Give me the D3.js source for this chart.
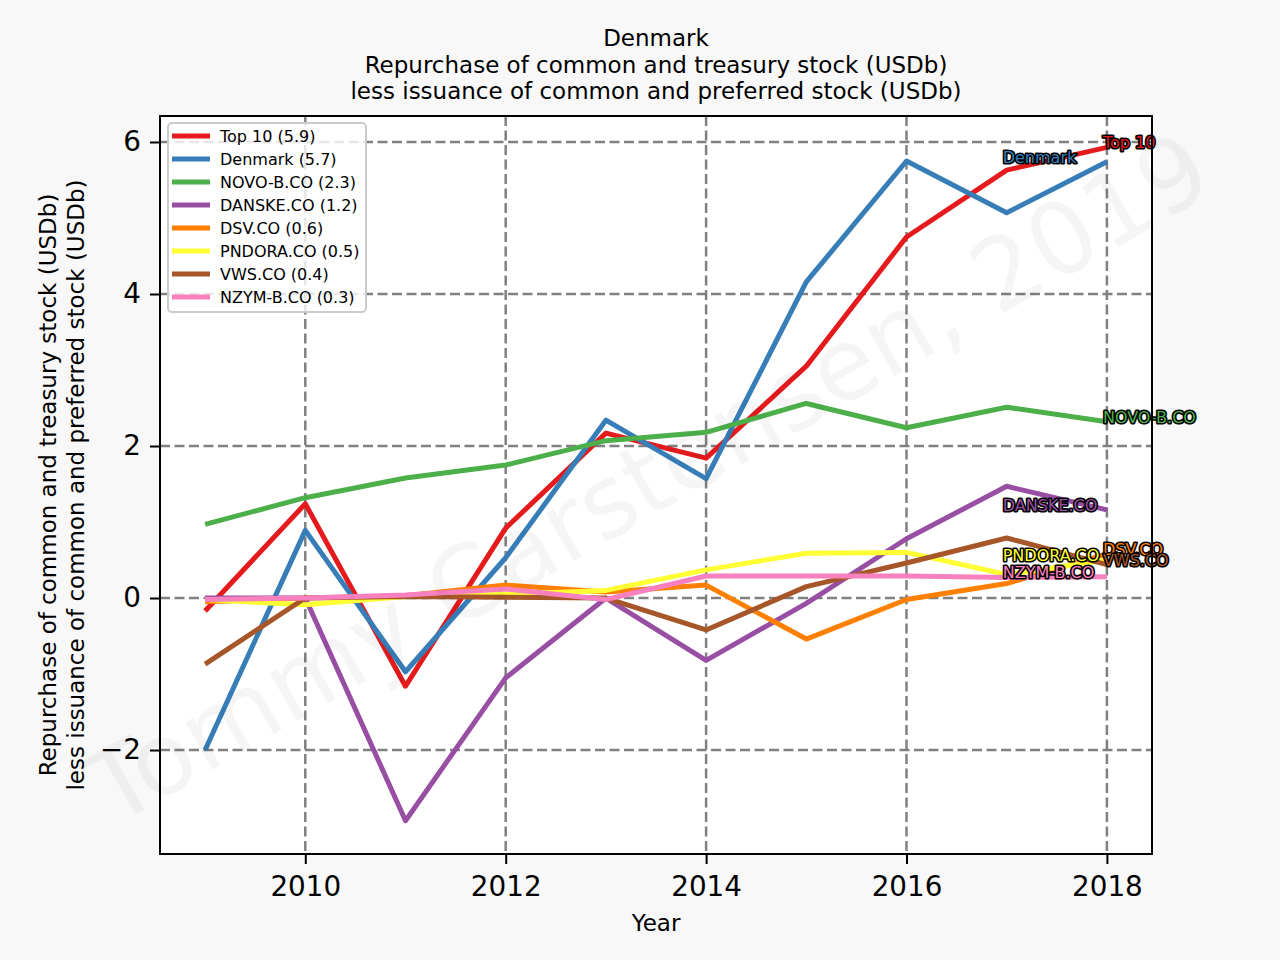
<!DOCTYPE html>
<html>
<head>
<meta charset="utf-8">
<script src="https://cdn.jsdelivr.net/npm/d3@7"></script>
<style>
  body { margin: 0; background: #f8f8f8; }
  svg { display: block; font-family: "DejaVu Sans", sans-serif; }
</style>
</head>
<body>
<div class="chart"></div>
<script>

const years = [2009, 2010, 2011, 2012, 2013, 2014, 2015, 2016, 2017, 2018]

const top10   = [-0.17, 1.24, -1.16, 0.92, 2.17, 1.84, 3.05, 4.75, 5.63, 5.93]
const denmark = [-2.00, 0.89, -0.97, 0.53, 2.34, 1.57, 4.16, 5.75, 5.07, 5.74]
const novo    = [0.97, 1.32, 1.58, 1.75, 2.07, 2.18, 2.56, 2.24, 2.51, 2.32]
const danske  = [0.00, 0.00, -2.93, -1.05, 0.00, -0.82, -0.07, 0.78, 1.47, 1.16]
const dsv     = [-0.05, 0.00, 0.03, 0.17, 0.08, 0.17, -0.54, -0.02, 0.19, 0.58]
const pndora  = [-0.02, -0.09, 0.02, 0.05, 0.10, 0.37, 0.59, 0.60, 0.31, 0.50]
const vws     = [-0.87, 0.00, 0.02, 0.01, 0.00, -0.42, 0.15, 0.46, 0.79, 0.44]
const nzym    = [-0.02, 0.00, 0.04, 0.12, -0.02, 0.29, 0.29, 0.29, 0.27, 0.28]

const seriesNames = ['Top 10', 'Denmark', 'NOVO-B.CO', 'DANSKE.CO', 'DSV.CO', 'PNDORA.CO', 'VWS.CO', 'NZYM-B.CO']
const seriesValues = [top10, denmark, novo, danske, dsv, pndora, vws, nzym]
const colors = ['#e41a1c', '#377eb8', '#4daf4a', '#984ea3', '#ff7f00', '#ffff33', '#a65628', '#f781bf']

const xTicks = [2010, 2012, 2014, 2016, 2018]
const yTicks = [-2, 0, 2, 4, 6]

const titleLines = ['Denmark', 'Repurchase of common and treasury stock (USDb)', 'less issuance of common and preferred stock (USDb)']
const yLabelLines = ['Repurchase of common and treasury stock (USDb)', 'less issuance of common and preferred stock (USDb)']

let width = 1280;
let height = 960;

let margin = {left: 160, right: 128, top: 116, bottom: 106}

let plotW = width - margin.left - margin.right;
let plotH = height - margin.top - margin.bottom;

let series = seriesNames.map((name, i) => ({
	name: name,
	color: colors[i],
	values: seriesValues[i].map((v, j) => ({year: years[j], value: v}))
}))

let xScale = d3.scaleLinear()
.domain([2008.55, 2018.45])
.range([0, plotW])

let yScale = d3.scaleLinear()
.domain([-3.368, 6.342])
.range([plotH, 0])

let line = d3.line()
.x(d => xScale(d.year))
.y(d => yScale(d.value))

let svg = d3.select('.chart').append('svg')
.attr('width', width)
.attr('height', height)

svg.append('rect')
.attr('width', width)
.attr('height', height)
.attr('fill', '#f8f8f8')

let g = svg.append('g')
.attr('transform', 'translate(' + margin.left + ',' + margin.top + ')')

g.append('rect')
.attr('width', plotW)
.attr('height', plotH)
.attr('fill', '#ffffff')

// grid
g.selectAll('.vgrid')
.data(xTicks)
.enter()
.append('line')
.attr('x1', d => xScale(d))
.attr('x2', d => xScale(d))
.attr('y1', 0)
.attr('y2', plotH)
.attr('stroke', '#808080')
.attr('stroke-width', 2.5)
.attr('stroke-dasharray', '10,4.5')

g.selectAll('.hgrid')
.data(yTicks)
.enter()
.append('line')
.attr('x1', 0)
.attr('x2', plotW)
.attr('y1', d => yScale(d))
.attr('y2', d => yScale(d))
.attr('stroke', '#808080')
.attr('stroke-width', 2.5)
.attr('stroke-dasharray', '10,4.5')

// lines
g.selectAll('.series')
.data(series)
.enter()
.append('path')
.attr('d', d => line(d.values))
.attr('fill', 'none')
.attr('stroke', d => d.color)
.attr('stroke-width', 5)
.attr('stroke-linejoin', 'round')

// end labels, alternating between last two years
g.selectAll('.endlabel')
.data(series)
.enter()
.append('text')
.attr('x', (d, i) => xScale(i % 2 == 0 ? years[years.length - 1] : years[years.length - 2]) - 4)
.attr('y', d => yScale(d.values[d.values.length - 1].value) + 1)
.attr('font-size', 16)
.attr('fill', d => d.color)
.attr('stroke', '#000')
.attr('stroke-width', 3.2)
.attr('stroke-linejoin', 'round')
.attr('paint-order', 'stroke')
.text(d => d.name)

// axes
const xAxis = g.append('g')
.attr('transform', 'translate(0,' + plotH + ')')
.call(d3.axisBottom(xScale).tickValues(xTicks).tickFormat(d3.format('d')).tickSizeInner(10).tickSizeOuter(0).tickPadding(12))

const yAxis = g.append('g')
.call(d3.axisLeft(yScale).tickValues(yTicks).tickSizeInner(10).tickSizeOuter(0).tickPadding(9))

g.selectAll('.tick text')
.attr('font-size', 27.8)
.attr('font-family', '"DejaVu Sans", sans-serif')
.attr('fill', '#000')

g.selectAll('.tick line')
.attr('stroke', '#000')
.attr('stroke-width', 2)

g.selectAll('.domain').remove();

g.append('rect')
.attr('width', plotW)
.attr('height', plotH)
.attr('fill', 'none')
.attr('stroke', '#000')
.attr('stroke-width', 2)

// legend
let legend = g.append('g')
.attr('transform', 'translate(8,7)')

legend.append('rect')
.attr('width', 198)
.attr('height', 189)
.attr('rx', 4)
.attr('fill', '#ffffff')
.attr('fill-opacity', 0.8)
.attr('stroke', '#cccccc')
.attr('stroke-width', 2)

let items = legend.selectAll('.item')
.data(series)
.enter()
.append('g')
.attr('transform', (d, i) => 'translate(0,' + (13 + 23 * i) + ')')

items.append('line')
.attr('x1', 4)
.attr('x2', 42)
.attr('stroke', d => d.color)
.attr('stroke-width', 5)

items.append('text')
.attr('x', 52)
.attr('dy', '0.35em')
.attr('font-size', 16)
.attr('fill', '#000')
.text(d => d.name + ' (' + d.values[d.values.length - 1].value.toFixed(1) + ')')

// titles
svg.selectAll('.title')
.data(titleLines)
.enter()
.append('text')
.attr('x', margin.left + plotW / 2)
.attr('y', (d, i) => 38 + 26.7 * i)
.attr('dy', '0.35em')
.attr('text-anchor', 'middle')
.attr('font-size', 23)
.attr('fill', '#000')
.text(d => d)

svg.append('text')
.attr('x', margin.left + plotW / 2)
.attr('y', 923)
.attr('dy', '0.35em')
.attr('text-anchor', 'middle')
.attr('font-size', 23)
.attr('fill', '#000')
.text('Year')

svg.selectAll('.ylabel')
.data(yLabelLines)
.enter()
.append('text')
.attr('transform', (d, i) => 'translate(' + (48 + 27.7 * i) + ',' + (margin.top + plotH / 2) + ') rotate(-90)')
.attr('dy', '0.35em')
.attr('text-anchor', 'middle')
.attr('font-size', 23)
.attr('fill', '#000')
.text(d => d)

// watermark
svg.append('text')
.attr('transform', 'translate(648,478) rotate(-30)')
.attr('dy', '0.35em')
.attr('text-anchor', 'middle')
.attr('font-size', 100)
.attr('fill', '#000')
.attr('fill-opacity', 0.04)
.text('Tommy Carstensen, 2019')

</script>
</body>
</html>
